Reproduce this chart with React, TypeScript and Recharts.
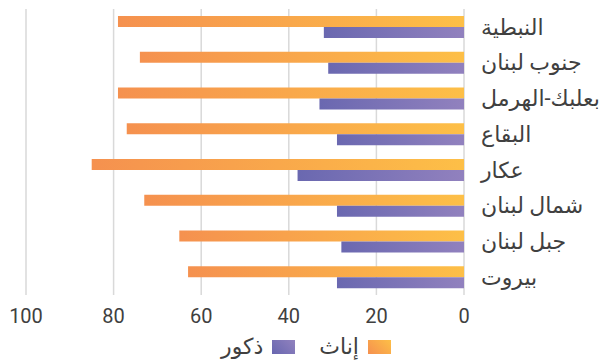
import { BarChart, Bar, XAxis, YAxis, CartesianGrid, Legend } from 'recharts';

const regions = [
  'النبطية',
  'جنوب لبنان',
  'بعلبك-الهرمل',
  'البقاع',
  'عكار',
  'شمال لبنان',
  'جبل لبنان',
  'بيروت',
];
const females = [79, 74, 79, 77, 85, 73, 65, 63];
const males = [32, 31, 33, 29, 38, 29, 28, 29];
const xTicks = [0, 20, 40, 60, 80, 100];

const data = regions.map((name, i) => ({
  name,
  females: females[i],
  males: males[i],
}));

const FONT = "Roboto, 'DejaVu Sans', sans-serif";
const TEXT = '#404040';

function RtlLegend({ payload }: any) {
  return (
    <div
      style={{
        display: 'flex',
        direction: 'rtl',
        justifyContent: 'center',
        alignItems: 'center',
        gap: 24,
        fontFamily: FONT,
        fontSize: 22,
        lineHeight: '24px',
        color: TEXT,
        paddingRight: 17,
      }}
    >
      {(payload || []).map((p: any) => (
        <div key={p.value} style={{ display: 'flex', alignItems: 'center', gap: 9 }}>
          <span
            style={{
              width: 23,
              height: 14,
              display: 'inline-block',
              background:
                p.dataKey === 'females'
                  ? 'linear-gradient(45deg, #f5904f, #fdbf47)'
                  : 'linear-gradient(45deg, #6866b0, #9182be)',
            }}
          />
          <span>{p.value}</span>
        </div>
      ))}
    </div>
  );
}

export default function App() {
  return (
    <div style={{ position: 'absolute', left: 0, top: 0, background: '#fff' }}>
      <BarChart
        width={603}
        height={364}
        data={data}
        layout="vertical"
        margin={{ top: 9, right: 0, left: 26, bottom: 3 }}
        barSize={11}
        barGap={0}
      >
        <defs>
          <linearGradient id="gradF" x1="0" y1="0" x2="1" y2="0">
            <stop offset="0%" stopColor="#f5914f" />
            <stop offset="100%" stopColor="#fdbf47" />
          </linearGradient>
          <linearGradient id="gradM" x1="0" y1="0" x2="1" y2="0">
            <stop offset="0%" stopColor="#6a68b0" />
            <stop offset="100%" stopColor="#9181be" />
          </linearGradient>
        </defs>
        <CartesianGrid horizontal={false} stroke="#d9d9d9" strokeWidth={1.5} />
        <XAxis
          type="number"
          domain={[0, 100]}
          ticks={xTicks}
          reversed
          axisLine={false}
          tickLine={false}
          tickMargin={8}
          height={40}
          tick={{ fill: TEXT, fontSize: 20, fontFamily: FONT }}
        />
        <YAxis
          type="category"
          dataKey="name"
          orientation="right"
          width={139}
          axisLine={false}
          tickLine={false}
          tickMargin={11}
          interval={0}
          tick={{ fill: TEXT, fontSize: 22, fontFamily: FONT, textAnchor: 'start' }}
        />
        <Legend verticalAlign="bottom" height={26} content={<RtlLegend />} />
        <Bar dataKey="females" name="إناث" fill="url(#gradF)" isAnimationActive={false} />
        <Bar dataKey="males" name="ذكور" fill="url(#gradM)" isAnimationActive={false} />
      </BarChart>
    </div>
  );
}
